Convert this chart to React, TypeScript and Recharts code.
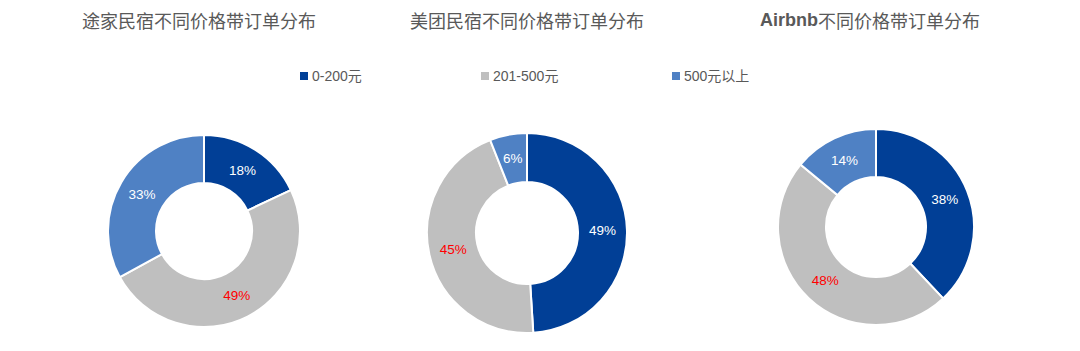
import { Cell, Legend, Pie, PieChart } from "recharts";

const CATEGORIES = ["0-200元", "201-500元", "500元以上"];
const COLORS = ["#013f96", "#bfbfbf", "#4f81c4"];
const LABEL_COLORS = ["#ffffff", "#ff0000", "#ffffff"];

const TITLES = ["途家民宿不同价格带订单分布", "美团民宿不同价格带订单分布", "不同价格带订单分布"];
const TITLE_PREFIX = ["", "", "Airbnb"];
const TUJIA = [18, 49, 33];
const MEITUAN = [49, 45, 6];
const AIRBNB = [38, 48, 14];

const SERIES = [TUJIA, MEITUAN, AIRBNB];
const LAYOUT = [
  { cx: 204, cy: 231, inner: 48, outer: 96, titleX: 199 },
  { cx: 527, cy: 233, inner: 51, outer: 100, titleX: 527 },
  { cx: 876, cy: 227, inner: 50, outer: 98, titleX: 870 },
];
const LEGEND_X = [300, 481, 672];

const RADIAN = Math.PI / 180;

function renderLabel(props: any) {
  const { cx, cy, midAngle, innerRadius, outerRadius, index, value } = props;
  const r = (innerRadius + outerRadius) / 2;
  const x = cx + r * Math.cos(-midAngle * RADIAN);
  const y = cy + r * Math.sin(-midAngle * RADIAN);
  return (
    <text
      x={x}
      y={y}
      fill={LABEL_COLORS[index]}
      textAnchor="middle"
      dominantBaseline="central"
      fontSize={13.5}
      fontFamily="'Liberation Sans', Arial, sans-serif"
    >
      {`${value}%`}
    </text>
  );
}

function LegendRow() {
  return (
    <g>
      {CATEGORIES.map((c, i) => (
        <g key={c}>
          <rect x={LEGEND_X[i]} y={72} width={8} height={8} fill={COLORS[i]} />
          <text
            x={LEGEND_X[i] + 12}
            y={76}
            dominantBaseline="central"
            fontSize={14}
            fill="#595959"
            fontFamily="'Liberation Sans', 'Noto Sans CJK SC', sans-serif"
          >
            {c}
          </text>
        </g>
      ))}
    </g>
  );
}

export default function App() {
  return (
    <div style={{ position: "absolute", left: 0, top: 0, width: 1080, height: 351, background: "#fff" }}>
      <PieChart width={1080} height={351} margin={{ top: 0, right: 0, bottom: 0, left: 0 }}>
        {SERIES.map((vals, k) => (
          <Pie
            key={k}
            data={vals.map((v, i) => ({ name: CATEGORIES[i], value: v }))}
            dataKey="value"
            nameKey="name"
            cx={LAYOUT[k].cx}
            cy={LAYOUT[k].cy}
            innerRadius={LAYOUT[k].inner}
            outerRadius={LAYOUT[k].outer}
            startAngle={90}
            endAngle={-270}
            stroke="#ffffff"
            strokeWidth={2}
            label={renderLabel}
            labelLine={false}
            isAnimationActive={false}
          >
            {vals.map((_, i) => (
              <Cell key={i} fill={COLORS[i]} />
            ))}
          </Pie>
        ))}
        <Legend content={() => null} />
        <LegendRow />
        {TITLES.map((t, k) => (
          <text
            key={t}
            x={LAYOUT[k].titleX}
            y={20}
            textAnchor="middle"
            dominantBaseline="central"
            fontSize={18}
            fontWeight={400}
            fill="#595959"
            fontFamily="'Noto Sans CJK SC', sans-serif"
          >
            {TITLE_PREFIX[k] && (
              <tspan fontWeight={700} fontFamily="'Liberation Sans', Arial, sans-serif">
                {TITLE_PREFIX[k]}
              </tspan>
            )}
            {t}
          </text>
        ))}
      </PieChart>
    </div>
  );
}
